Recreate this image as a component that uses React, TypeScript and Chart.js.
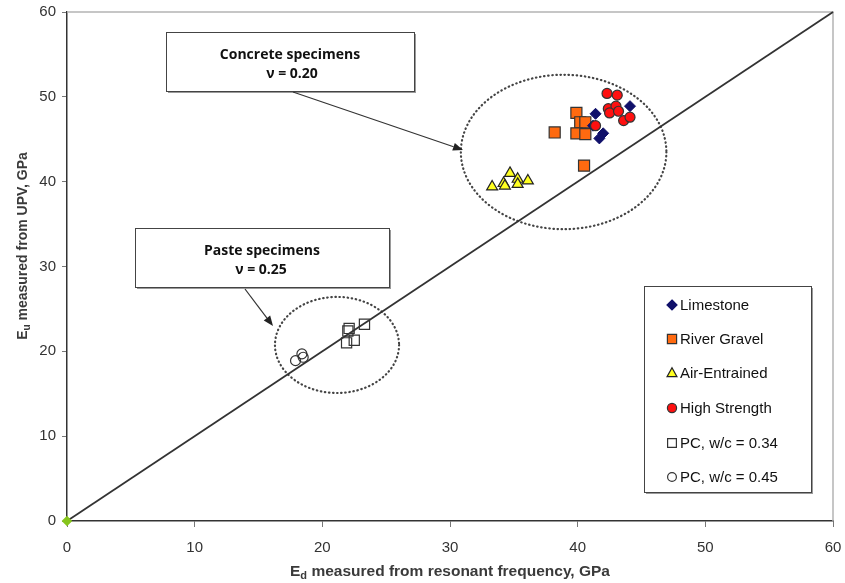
import React, { useEffect, useRef } from "react";
import { Chart, registerables } from "chart.js";
Chart.register(...registerables);

// ---- data (GPa) ----
const limestone = [
  { x: 41.4, y: 48.0 }, { x: 44.1, y: 48.9 }, { x: 42.0, y: 45.7 },
  { x: 41.7, y: 45.1 }, { x: 41.2, y: 46.6 },
];
const riverGravel = [
  { x: 38.2, y: 45.8 }, { x: 39.9, y: 48.1 }, { x: 40.2, y: 47.0 },
  { x: 40.6, y: 47.0 }, { x: 39.9, y: 45.7 }, { x: 40.6, y: 45.6 },
  { x: 40.5, y: 41.9 },
];
const airEntrained = [
  { x: 33.3, y: 39.4 }, { x: 34.7, y: 41.0 }, { x: 34.2, y: 39.8 },
  { x: 34.3, y: 39.5 }, { x: 35.3, y: 40.3 }, { x: 35.3, y: 39.7 },
  { x: 36.1, y: 40.1 },
];
const highStrength = [
  { x: 42.3, y: 50.4 }, { x: 43.1, y: 50.2 }, { x: 42.4, y: 48.6 },
  { x: 43.0, y: 48.9 }, { x: 42.5, y: 48.1 }, { x: 43.2, y: 48.3 },
  { x: 43.6, y: 47.2 }, { x: 44.1, y: 47.6 }, { x: 41.4, y: 46.6 },
];
const pc034 = [
  { x: 22.1, y: 22.7 }, { x: 23.3, y: 23.2 }, { x: 21.9, y: 21.0 },
  { x: 22.5, y: 21.3 }, { x: 22.0, y: 22.4 },
];
const pc045 = [
  { x: 17.9, y: 18.9 }, { x: 18.4, y: 19.7 }, { x: 18.5, y: 19.3 },
];
const equalityLine = [{ x: 0, y: 0 }, { x: 60, y: 60 }];

const xTicks = [0, 10, 20, 30, 40, 50, 60];
const yTicks = [0, 10, 20, 30, 40, 50, 60];

const legendLabels = [
  "Limestone", "River Gravel", "Air-Entrained", "High Strength",
  "PC, w/c = 0.34", "PC, w/c = 0.45",
];

// ellipses in data units: cx, cy, rx, ry
const concreteEllipse = [38.9, 43.5, 8.05, 9.1];
const pasteEllipse = [21.15, 20.75, 4.86, 5.66];

function drawMarker(ctx: CanvasRenderingContext2D, kind: string, x: number, y: number, r: number, fill: string, stroke: string) {
  ctx.beginPath();
  if (kind === "rectRot") {
    ctx.moveTo(x, y - r); ctx.lineTo(x + r, y); ctx.lineTo(x, y + r); ctx.lineTo(x - r, y); ctx.closePath();
  } else if (kind === "rect") {
    ctx.rect(x - r, y - r, 2 * r, 2 * r);
  } else if (kind === "triangle") {
    ctx.moveTo(x, y - r); ctx.lineTo(x + r * 0.95, y + r * 0.7); ctx.lineTo(x - r * 0.95, y + r * 0.7); ctx.closePath();
  } else {
    ctx.arc(x, y, r, 0, Math.PI * 2);
  }
  ctx.fillStyle = fill; ctx.fill();
  ctx.lineWidth = 1.2; ctx.strokeStyle = stroke; ctx.stroke();
}

function drawSubText(ctx: CanvasRenderingContext2D, main: string, sub: string, rest: string, cx: number, cy: number, size: number, bold: boolean) {
  const w = bold ? "bold " : "";
  const f1 = `${w}${size}px "Liberation Sans", Arial, sans-serif`;
  const f2 = `${w}${Math.round(size * 0.7)}px "Liberation Sans", Arial, sans-serif`;
  ctx.font = f1; const w1 = ctx.measureText(main).width; const w3 = ctx.measureText(rest).width;
  ctx.font = f2; const w2 = ctx.measureText(sub).width;
  let x = cx - (w1 + w2 + w3) / 2;
  ctx.textBaseline = "middle"; ctx.textAlign = "left";
  ctx.font = f1; ctx.fillText(main, x, cy); x += w1;
  ctx.font = f2; ctx.fillText(sub, x, cy + size * 0.28); x += w2;
  ctx.font = f1; ctx.fillText(rest, x, cy);
}

function shadowBox(ctx: CanvasRenderingContext2D, x: number, y: number, w: number, h: number) {
  ctx.fillStyle = "#9a9a9a"; ctx.fillRect(x + 2, y + 2, w, h);
  ctx.fillStyle = "#ffffff"; ctx.fillRect(x, y, w, h);
  ctx.strokeStyle = "#444"; ctx.lineWidth = 1; ctx.strokeRect(x + 0.5, y + 0.5, w, h);
}

function arrow(ctx: CanvasRenderingContext2D, x1: number, y1: number, x2: number, y2: number) {
  ctx.strokeStyle = "#333"; ctx.lineWidth = 1.2;
  const a = Math.atan2(y2 - y1, x2 - x1);
  const L = 10, W = 4;
  const bx = x2 - L * Math.cos(a), by = y2 - L * Math.sin(a);
  ctx.beginPath(); ctx.moveTo(x1, y1); ctx.lineTo(bx, by); ctx.stroke();
  ctx.beginPath(); ctx.moveTo(x2, y2);
  ctx.lineTo(bx + W * Math.sin(a), by - W * Math.cos(a));
  ctx.lineTo(bx - W * Math.sin(a), by + W * Math.cos(a));
  ctx.closePath(); ctx.fillStyle = "#222"; ctx.fill();
}

const decor = {
  id: "decor",
  beforeDatasetsDraw(chart: any) {
    const ctx = chart.ctx as CanvasRenderingContext2D;
    const { left, right, top, bottom } = chart.chartArea;
    ctx.save();
    ctx.strokeStyle = "#b4b4b4"; ctx.lineWidth = 1.5;
    ctx.beginPath(); ctx.moveTo(left, top); ctx.lineTo(right, top); ctx.lineTo(right, bottom); ctx.stroke();
    // dotted ellipses
    const xs = chart.scales.x, ys = chart.scales.y;
    for (const e of [concreteEllipse, pasteEllipse]) {
      const cx = xs.getPixelForValue(e[0]), cy = ys.getPixelForValue(e[1]);
      const rx = xs.getPixelForValue(e[0] + e[2]) - cx, ry = cy - ys.getPixelForValue(e[1] + e[3]);
      ctx.beginPath(); ctx.ellipse(cx, cy, rx, ry, 0, 0, Math.PI * 2);
      ctx.setLineDash([0.5, 3.6]); ctx.lineCap = "round"; ctx.lineWidth = 2.2; ctx.strokeStyle = "#444";
      ctx.stroke();
    }
    ctx.setLineDash([]); ctx.lineCap = "butt";
    ctx.restore();
  },
  afterDraw(chart: any) {
    const ctx = chart.ctx as CanvasRenderingContext2D;
    ctx.save();
    // annotation boxes
    shadowBox(ctx, 166, 32, 248, 59);
    shadowBox(ctx, 135, 228, 254, 59);
    ctx.fillStyle = "#111"; ctx.textAlign = "center"; ctx.textBaseline = "middle";
    ctx.font = 'bold 14px "Open Sans", sans-serif';
    ctx.fillText("Concrete specimens", 290, 55);
    ctx.fillText("ν = 0.20", 292, 74);
    ctx.fillText("Paste specimens", 262, 251);
    ctx.fillText("ν = 0.25", 261, 270);
    arrow(ctx, 293, 92, 463, 150);
    arrow(ctx, 245, 289, 273, 326);
    // legend
    shadowBox(ctx, 644, 286, 167, 206);
    const kinds = ["rectRot", "rect", "triangle", "circle", "rect", "circle"];
    const fills = ["#10106a", "#ff6a10", "#ffff20", "#ff1010", "#ffffff", "#ffffff"];
    const strokes = ["#10106a", "#333", "#222", "#333", "#333", "#333"];
    const rs = [5, 4.6, 5.2, 4.6, 4.4, 4.4];
    const rowsY = [305, 339, 373, 408, 443, 477];
    for (let i = 0; i < legendLabels.length; i++) {
      drawMarker(ctx, kinds[i], 672, rowsY[i], rs[i], fills[i], strokes[i]);
      ctx.fillStyle = "#111"; ctx.textAlign = "left"; ctx.textBaseline = "middle";
      ctx.font = '15px "Liberation Sans", Arial, sans-serif';
      ctx.fillText(legendLabels[i], 680, rowsY[i] + 1);
    }
    // axis titles
    ctx.fillStyle = "#3a3a3a";
    drawSubText(ctx, "E", "d", " measured from resonant frequency, GPa", 450, 572, 15.5, true);
    ctx.translate(23, 246); ctx.rotate(-Math.PI / 2);
    drawSubText(ctx, "E", "u", " measured from UPV, GPa", 0, 0, 14, true);
    ctx.restore();
  },
};

export default function App() {
  const ref = useRef<HTMLCanvasElement | null>(null);
  useEffect(() => {
    if (!ref.current) return;
    const chart = new Chart(ref.current, {
      type: "scatter",
      data: {
        datasets: [
          { label: legendLabels[3], data: highStrength, pointStyle: "circle", pointRadius: 5, backgroundColor: "#ff1010", borderColor: "#333", borderWidth: 1.2 },
          { label: legendLabels[0], data: limestone, pointStyle: "rectRot", pointRadius: 5.5, backgroundColor: "#10106a", borderColor: "#10106a", borderWidth: 1 },
          { label: legendLabels[1], data: riverGravel, pointStyle: "rect", pointRadius: 7.8, backgroundColor: "#ff6a10", borderColor: "#333", borderWidth: 1.2 },
          { label: legendLabels[2], data: airEntrained, pointStyle: "triangle", pointRadius: 6.3, backgroundColor: "#ffff20", borderColor: "#222", borderWidth: 1.2 },
          { label: legendLabels[4], data: pc034, pointStyle: "rect", pointRadius: 7.2, backgroundColor: "rgba(255,255,255,0)", borderColor: "#333", borderWidth: 1.2 },
          { label: legendLabels[5], data: pc045, pointStyle: "circle", pointRadius: 5, backgroundColor: "rgba(255,255,255,0)", borderColor: "#333", borderWidth: 1.2 },
          { label: "line", data: equalityLine, showLine: true, clip: false, borderColor: "#333", borderWidth: 1.8, pointRadius: [4, 0], pointStyle: "rectRot", pointBackgroundColor: "#86c51c", pointBorderColor: "#86c51c" } as any,
        ],
      },
      options: {
        animation: false,
        responsive: false,
        layout: { padding: { left: 0, top: 12, right: 12, bottom: 0 } },
        plugins: { legend: { display: false }, tooltip: { enabled: false } },
        scales: {
          x: {
            type: "linear", min: 0, max: 60,
            afterBuildTicks: (s: any) => { s.ticks = xTicks.map((v) => ({ value: v })); },
            afterFit: (s: any) => { s.height = 62; s.paddingLeft = 0; s.paddingRight = 0; },
            grid: { drawOnChartArea: false, tickLength: 6, color: "#777" },
            border: { color: "#333", width: 1.5 },
            ticks: { color: "#333", font: { family: '"Liberation Sans", Arial, sans-serif', size: 15 }, padding: 12, maxRotation: 0 },
          },
          y: {
            type: "linear", min: 0, max: 60,
            afterBuildTicks: (s: any) => { s.ticks = yTicks.map((v) => ({ value: v })); },
            afterFit: (s: any) => { s.width = 67; s.paddingTop = 0; s.paddingBottom = 0; },
            grid: { drawOnChartArea: false, tickLength: 5, color: "#777" },
            border: { color: "#333", width: 1.5 },
            ticks: { color: "#333", font: { family: '"Liberation Sans", Arial, sans-serif', size: 15 }, padding: 6 },
          },
        },
      },
      plugins: [decor],
    });
    return () => chart.destroy();
  }, []);
  return (
    <div style={{ position: "absolute", left: 0, top: 0, width: 845, height: 583, background: "#fff" }}>
      <canvas ref={ref} width={845} height={583} />
    </div>
  );
}
